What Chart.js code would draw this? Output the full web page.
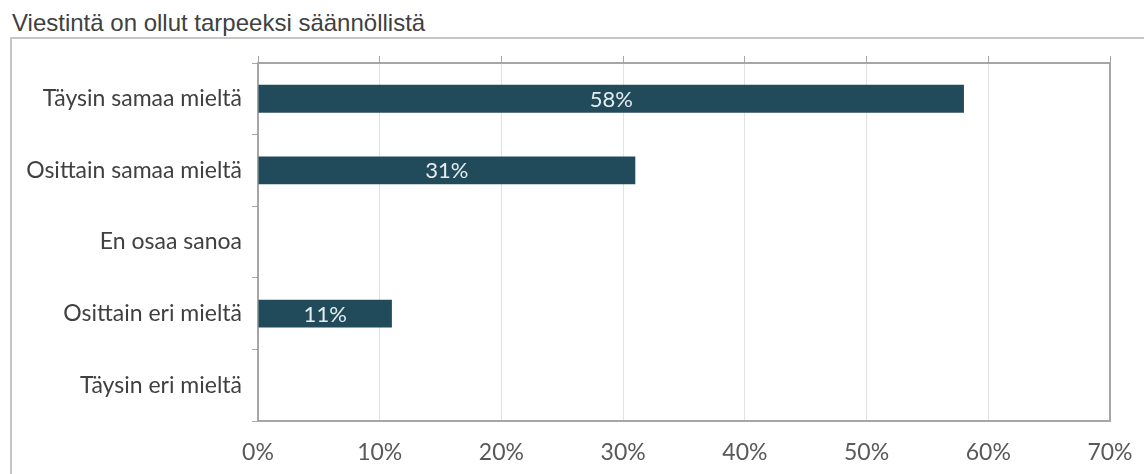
<!DOCTYPE html>
<html>
<head>
<meta charset="utf-8">
<script src="https://cdn.jsdelivr.net/npm/chart.js@4/dist/chart.umd.min.js"></script>
<style>
  html, body { margin: 0; padding: 0; background: #fff; }
  #wrap { position: relative; width: 1144px; height: 474px; overflow: hidden; }
  #title {
    position: absolute; left: 12px; top: 9px;
    font-family: "Liberation Sans", Arial, sans-serif; font-size: 24px; color: #404040;
    white-space: nowrap;
  }
  #frame {
    position: absolute; left: 10px; top: 37px; right: -4px; bottom: -4px;
    border-top: 2px solid #c6c6c6; border-left: 2px solid #c6c6c6;
  }
  #myChart { position: absolute; left: 0; top: 0; }
</style>
</head>
<body>
<div id="wrap">
  <div id="title">Viestintä on ollut tarpeeksi säännöllistä</div>
  <div id="frame"></div>
  <canvas id="myChart" width="1144" height="474"></canvas>
</div>
<script>
// answers and shares (%)
const categories = ['Täysin samaa mieltä', 'Osittain samaa mieltä', 'En osaa sanoa', 'Osittain eri mieltä', 'Täysin eri mieltä'];
const values = [58, 31, 0, 11, 0];
const xMax = 70;
const xStep = 10;

const axisGray = '#a6a6a6';
const labelFont = { family: 'Lato, "Noto Sans", sans-serif', size: 23 };

// text inside the bars
const barLabels = {
  id: 'barLabels',
  afterDatasetsDraw(chart) {
    const ctx = chart.ctx;
    const meta = chart.getDatasetMeta(0);
    ctx.save();
    ctx.fillStyle = '#e4ecee';
    ctx.font = '22px ' + labelFont.family;
    ctx.textAlign = 'center';
    ctx.textBaseline = 'middle';
    meta.data.forEach(function (bar, i) {
      if (!values[i]) return;
      ctx.fillText(values[i] + '%', (bar.x + bar.base) / 2, bar.y + 1);
    });
    ctx.restore();
  }
};

const config = {
  type: 'bar',
  data: {
    labels: categories,
    datasets: [{
      data: values,
      backgroundColor: '#214b5a',
      borderWidth: 0,
      barPercentage: 0.39,
      categoryPercentage: 1
    }]
  },
  options: {
    indexAxis: 'y',
    responsive: false,
    animation: false,
    layout: { padding: { left: 0, right: 34, top: 0, bottom: 0 } },
    plugins: { legend: { display: false }, tooltip: { enabled: false } },
    scales: {
      x: {
        position: 'bottom',
        min: 0, max: xMax,
        ticks: { stepSize: xStep, color: '#595959', font: labelFont, padding: 18,
                 callback: function (v) { return v + '%'; } },
        grid: { color: '#e2e2e2', lineWidth: 1, drawTicks: false },
        border: { display: true, color: axisGray, width: 2 },
        afterFit: function (s) { s.height = 53; s.paddingLeft = 0; s.paddingRight = 0; }
      },
      x2: {
        position: 'top',
        type: 'linear',
        min: 0, max: xMax,
        ticks: { display: false, stepSize: xStep },
        grid: { drawOnChartArea: false, drawTicks: true, tickLength: 7, color: axisGray, lineWidth: 1 },
        border: { display: true, color: axisGray, width: 2 },
        afterFit: function (s) { s.height = 63; s.paddingLeft = 0; s.paddingRight = 0; }
      },
      y: {
        position: 'left',
        ticks: { color: '#404040', font: labelFont, padding: 10 },
        grid: { drawOnChartArea: false, drawTicks: true, tickLength: 6, color: axisGray, lineWidth: 1 },
        border: { display: true, color: axisGray, width: 2 },
        afterFit: function (s) { s.width = 258; s.paddingTop = 0; s.paddingBottom = 0; }
      },
      y2: {
        position: 'right',
        type: 'linear',
        ticks: { display: false },
        grid: { display: false, drawTicks: false },
        border: { display: true, color: axisGray, width: 2 },
        afterFit: function (s) { s.width = 0; s.paddingTop = 0; s.paddingBottom = 0; }
      }
    }
  },
  plugins: [barLabels]
};

const myChart = new Chart(document.getElementById('myChart'), config);
</script>
</body>
</html>
